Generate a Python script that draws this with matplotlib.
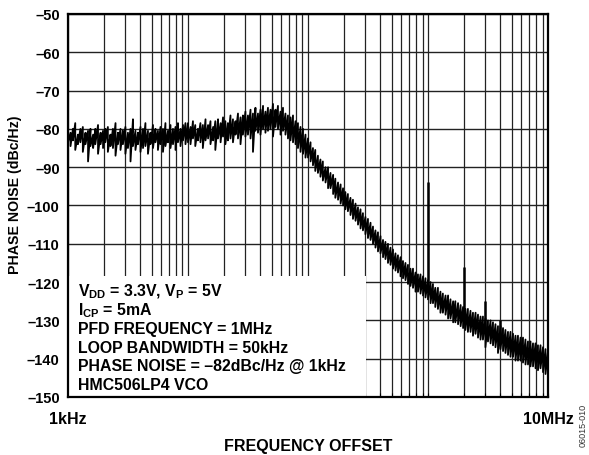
import matplotlib.pyplot as plt
from matplotlib.patches import Rectangle
from matplotlib.ticker import FixedLocator, NullFormatter

plt.rcParams['font.family'] = ['Liberation Sans', 'DejaVu Sans']
plt.rcParams['font.weight'] = 'bold'
plt.rcParams['mathtext.fontset'] = 'custom'
plt.rcParams['mathtext.bf'] = 'Liberation Sans:bold'
plt.rcParams['mathtext.rm'] = 'Liberation Sans:bold'
plt.rcParams['mathtext.default'] = 'bf'

# frequency grid of the trace, kHz (E48 steps in each decade)
mantissa = [1.00, 1.05, 1.10, 1.15, 1.21, 1.27, 1.33, 1.40, 1.47, 1.54, 1.62, 1.69,
            1.78, 1.87, 1.96, 2.05, 2.15, 2.26, 2.37, 2.49, 2.61, 2.74, 2.87, 3.01,
            3.16, 3.32, 3.48, 3.65, 3.83, 4.02, 4.22, 4.42, 4.64, 4.87, 5.11, 5.36,
            5.62, 5.90, 6.19, 6.49, 6.81, 7.15, 7.50, 7.87, 8.25, 8.66, 9.09, 9.53]
decades = [1, 10, 100, 1000]
freq_khz = [m * d for d in decades for m in mantissa] + [10000]

# upper / lower edge of the noisy trace, dBc/Hz
noise_hi = [
    # 1kHz .. 10kHz
    -79.5, -81, -80, -78.5, -81.5, -80, -79.5, -81, -80.5, -80, -81.5, -80,
    -79, -81, -80.5, -80, -79.5, -81.5, -80, -78.5, -81, -80, -80.5, -79.5,
    -81, -80, -77.5, -80.5, -81, -79.5, -80, -78.5, -80.5, -81, -79, -80,
    -80.5, -79.5, -80, -78.5, -80.5, -79, -80, -79.5, -78.5, -80, -79, -78.5,
    # 10kHz .. 100kHz
    -78.5, -79.5, -78, -79, -80, -78.5, -79, -77.5, -79, -78, -79.5, -78,
    -77.5, -78.5, -77, -78, -78.5, -76.5, -77.5, -78, -76, -77, -76.5, -75.5,
    -76.5, -75, -76, -74.5, -76, -75, -74, -75.5, -74.5, -75, -73.5, -75,
    -74, -75.5, -74.5, -76, -76.5, -77, -76.5, -78, -78.5, -79.5, -80, -81.5,
    # 100kHz .. 1MHz
    -82.5, -83.5, -85, -85.5, -87, -88, -88.5, -90, -90, -91.5, -92, -93,
    -94, -94.5, -95.5, -96.5, -97, -98, -98.5, -99.5, -100.5, -101, -102, -103,
    -103.5, -104.5, -105.5, -106.5, -107, -108, -109, -109.5, -110, -111, -111.5, -112.5,
    -113, -113.5, -114.5, -115, -115.5, -116.5, -116.5, -117.5, -118, -118, -118.5, -119,
    # 1MHz .. 10MHz
    -119.5, -120, -120.5, -121.5, -121.5, -122.5, -123, -123.5, -123.5, -124.5, -125, -125,
    -125.5, -126, -126.5, -127, -127, -127.5, -128, -128, -128.5, -129, -129, -129.5,
    -130, -130, -130.5, -131, -131.5, -131.5, -132, -132.5, -133, -133, -133.5, -134,
    -134, -134.5, -134.5, -135, -135.5, -135.5, -136, -136, -136.5, -136.5, -137, -137.5,
    -138]
noise_lo = [
    -83.5, -84.5, -83, -85.5, -84, -83.5, -86, -84, -88.5, -84.5, -85, -84,
    -86.5, -84, -85, -83.5, -86, -84.5, -85, -87, -84, -85.5, -84, -86.5,
    -85, -88.5, -84.5, -85.5, -84, -86, -85, -84.5, -86.5, -84, -85, -83.5,
    -85.5, -84, -86, -84.5, -83.5, -85, -84, -85.5, -83.5, -84.5, -83, -84,
    -83.5, -84, -82.5, -84.5, -83, -83.5, -85, -83, -82.5, -84, -83, -85.5,
    -82.5, -83.5, -82, -84, -83, -82.5, -83.5, -81.5, -82.5, -84, -81.5, -82,
    -81.5, -82.5, -86, -80.5, -81, -81.5, -80, -81, -80.5, -80, -82, -79.5,
    -80, -81.5, -80.5, -81.5, -82.5, -83, -83.5, -84, -85, -86, -86.5, -87.5,
    -87.5, -88.5, -89.5, -91, -91.5, -92.5, -93.5, -94, -95.5, -95.5, -97, -98,
    -98.5, -99.5, -100, -101, -101.5, -102.5, -103.5, -104, -105, -106, -106.5, -107.5,
    -108.5, -109, -110, -111, -112, -112.5, -113.5, -114, -115, -115.5, -116.5, -117,
    -117.5, -118.5, -119, -119.5, -120.5, -121, -121.5, -122.5, -122.5, -123, -123.5, -124,
    -124.5, -125.5, -125.5, -126.5, -127, -128, -128, -128.5, -129.5, -129.5, -130.5, -130.5,
    -131, -131.5, -132, -132.5, -133, -133, -134, -133.5, -134.5, -135, -135, -137,
    -135.5, -136, -136.5, -137, -138.5, -137.5, -138, -138.5, -139, -139.5, -139.5, -140.5,
    -140.5, -140.5, -141, -141.5, -141.5, -142, -142, -142.5, -143, -142.5, -143.5, -144,
    -145.5]

# reference spurs
spur_khz = [1000, 2000, 3000, 4000, 10000]
spur_top = [-94, -116, -125, -130, -125]
spur_base = [-121, -130, -133, -135, -143]

ytick_vals = [-150, -140, -130, -120, -110, -100, -90, -80, -70, -60, -50]
ytick_labels = ['–150', '–140', '–130', '–120', '–110', '–100', '–90', '–80',
                '–70', '–60', '–50']

notes = [r'V$_{DD}$ = 3.3V, V$_{P}$ = 5V',
         r'I$_{CP}$ = 5mA',
         'PFD FREQUENCY = 1MHz',
         'LOOP BANDWIDTH = 50kHz',
         'PHASE NOISE = –82dBc/Hz @ 1kHz',
         'HMC506LP4 VCO']

fig = plt.figure(figsize=(5.89, 4.56), dpi=100)
ax = fig.add_axes([0.1154, 0.1272, 0.815, 0.840])

# interleave hi/lo so every frequency gets a vertical stroke
xs, ys = [], []
for f, hi, lo in zip(freq_khz, noise_hi, noise_lo):
    xs += [f, f]
    ys += [hi, lo]
ax.plot(xs, ys, color='black', lw=1.3, zorder=3)
ax.vlines(spur_khz, spur_base, spur_top, color='black', lw=1.8, zorder=3)

ax.set_xscale('log')
ax.set_xlim(1, 10000)
ax.set_ylim(-150, -50)

ax.xaxis.set_major_locator(FixedLocator([1, 10, 100, 1000, 10000]))
ax.xaxis.set_minor_locator(FixedLocator([m * d for d in decades for m in range(2, 10)]))
ax.xaxis.set_minor_formatter(NullFormatter())
ax.set_xticklabels(['1kHz', '', '', '', '10MHz'])
ax.set_yticks(ytick_vals)
ax.set_yticklabels(ytick_labels)

ax.grid(which='both', axis='x', color='#222222', lw=0.9, zorder=1)
ax.grid(which='major', axis='y', color='#222222', lw=1.0, zorder=1)
ax.set_axisbelow(True)
ax.tick_params(which='both', direction='in', length=3, width=0.8)
ax.tick_params(axis='x', labelsize=11.5, pad=10)
ax.tick_params(axis='y', length=0, labelsize=10.5, pad=6)
for s in ax.spines.values():
    s.set_linewidth(1.6)
    s.set_zorder(5)

# white box behind the notes
ax.add_patch(Rectangle((1, -150), 303, 31.6, facecolor='white', edgecolor='none', zorder=2.5))
for i, line in enumerate(notes):
    ax.text(1.21, -122.4 - i * 4.85, line, fontsize=11.4, fontweight='bold',
            va='center', ha='left', zorder=4)

ax.set_xlabel('FREQUENCY OFFSET', fontsize=11.5, fontweight='bold', labelpad=9)
ax.set_ylabel('PHASE NOISE (dBc/Hz)', fontsize=10.2, fontweight='bold')
ax.yaxis.set_label_coords(-0.096, 0.53)
fig.text(0.990, 0.068, '06015-010', rotation=90, fontsize=6.5, color='#333333',
         ha='center', va='center', fontweight='normal')

fig.savefig('out.png', dpi=100)
